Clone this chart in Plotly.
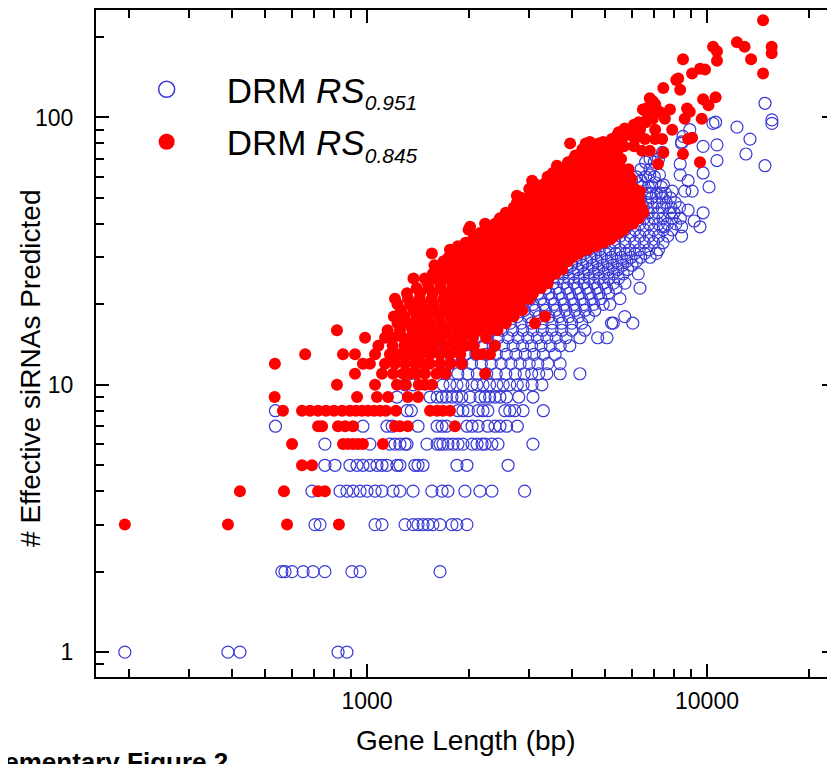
import plotly.graph_objects as go

# ---------------- data (gene length in bp, number of effective siRNAs) ----------------
# DRM RS 0.951 (open blue circles)
blue_low = [
    (194, 1), (390, 1), (423, 1), (822, 1), (873, 1),
    (562, 2), (574, 2), (602, 2), (649, 2), (694, 2), (752, 2), (903, 2), (954, 2), (1640, 2),
    (703, 3), (728, 3), (1056, 3), (1107, 3), (1294, 3), (1366, 3), (1413, 3), (1462, 3), (1511, 3),
    (1563, 3), (1640, 3), (1778, 3), (1839, 3), (1968, 3),
    (689, 4), (833, 4), (873, 4), (910, 4), (954, 4), (1000, 4), (1056, 4), (1107, 4), (1193, 4),
    (1250, 4), (1366, 4), (1552, 4), (1663, 4), (1730, 4), (1941, 4), (2149, 4), (2330, 4), (2908, 4),
    (752, 5), (805, 5), (891, 5), (935, 5), (973, 5), (1020, 5), (1070, 5), (1107, 5), (1145, 5),
    (1225, 5), (1250, 5), (1383, 5), (1413, 5), (1462, 5), (1839, 5), (1968, 5), (2600, 5),
    (752, 6), (1020, 6), (1168, 6), (1209, 6), (1250, 6), (1294, 6), (1311, 6), (1501, 6), (1608, 6),
    (1640, 6), (1673, 6), (1730, 6), (1791, 6), (1852, 6), (1915, 6), (2037, 6), (2107, 6), (2180, 6),
    (2225, 6), (2330, 6), (2428, 6), (3077, 6),
    (538, 7), (973, 7), (1145, 7), (1186, 7), (1413, 7), (1608, 7), (1663, 7), (1713, 7), (1968, 7),
    (2037, 7), (2123, 7), (2267, 7), (2380, 7), (2461, 7), (2575, 7), (2767, 7),
    (538, 8), (1311, 8), (1350, 8), (1852, 8), (1915, 8), (1986, 8), (2123, 8), (2195, 8), (2267, 8),
    (2545, 8), (2630, 8), (2720, 8), (2878, 8), (3300, 8),
    (1225, 9), (1533, 9), (1608, 9), (1663, 9), (1713, 9), (1778, 9), (1839, 9), (1900, 9), (2010, 9),
    (2149, 9), (2225, 9), (2295, 9), (2380, 9), (2461, 9), (2575, 9), (2795, 9), (3077, 9),
    (1294, 10), (1366, 10), (1673, 10), (1754, 10), (1839, 10), (1915, 10), (2037, 10), (2107, 10),
    (2195, 10), (2295, 10), (2412, 10), (2515, 10), (2630, 10), (2767, 10), (2878, 10), (3060, 10), (3270, 10),
]
blue_mid = [
    (1700, 11), (1850, 11), (1980, 11), (2110, 11), (2250, 11), (2400, 11), (2560, 11), (2730, 11),
    (2900, 11), (3050, 11), (3200, 11), (3380, 11), (3700, 11), (4229, 11),
    (1750, 12), (1900, 12), (2030, 12), (2170, 12), (2320, 12), (2480, 12), (2650, 12), (2820, 12),
    (3000, 12), (3180, 12), (3400, 12), (3698, 12),
    (1800, 13), (1950, 13), (2090, 13), (2240, 13), (2400, 13), (2570, 13), (2740, 13), (2920, 13),
    (3100, 13), (3300, 13), (3575, 13),
    (1338, 14), (1413, 14), (1563, 14), (1900, 14), (2050, 14), (2200, 14), (2350, 14), (2520, 14),
    (2690, 14), (2870, 14), (3050, 14), (3250, 14), (3460, 14), (3700, 14), (3950, 14),
    (1501, 15), (1950, 15), (2100, 15), (2260, 15), (2430, 15), (2600, 15), (2780, 15), (2970, 15),
    (3170, 15), (3380, 15), (3600, 15), (3850, 15), (4229, 15), (4770, 15), (5080, 15),
    (2000, 16), (2160, 16), (2330, 16), (2500, 16), (2680, 16), (2870, 16), (3070, 16), (3280, 16),
    (3500, 16), (3740, 16), (4000, 16), (4375, 16),
    (1294, 17), (2100, 17), (2270, 17), (2450, 17), (2640, 17), (2840, 17), (3050, 17), (3270, 17),
    (3500, 17), (3740, 17), (4000, 17), (4280, 17), (5240, 17), (5300, 17), (6050, 17),
    (2200, 18), (2380, 18), (2570, 18), (2770, 18), (2980, 18), (3200, 18), (3430, 18), (3670, 18),
    (3920, 18), (4190, 18), (4480, 18), (5730, 18),
    (2300, 19), (2490, 19), (2690, 19), (2900, 19), (3120, 19), (3350, 19), (3590, 19), (3840, 19),
    (4100, 19), (4380, 19), (4680, 19),
    (2450, 20), (2650, 20), (2860, 20), (3080, 20), (3310, 20), (3550, 20), (3800, 20), (4060, 20),
    (4340, 20), (4640, 20), (4950, 20), (5183, 20),
    (2600, 21), (2800, 21), (3020, 21), (3250, 21), (3490, 21), (3740, 21), (4000, 21), (4280, 21),
    (4570, 21), (4880, 21), (5546, 21),
    (2750, 22), (2960, 22), (3190, 22), (3430, 22), (3680, 22), (3940, 22), (4210, 22), (4500, 22),
    (4810, 22), (5130, 22),
    (2900, 23), (3120, 23), (3360, 23), (3610, 23), (3870, 23), (4140, 23), (4430, 23), (4740, 23),
    (5060, 23), (5400, 23), (6352, 23),
    (3050, 24), (3280, 24), (3530, 24), (3790, 24), (4060, 24), (4350, 24), (4650, 24), (4970, 24),
    (5310, 24), (5737, 24),
    (3150, 25), (3390, 25), (3650, 25), (3920, 25), (4200, 25), (4500, 25), (4810, 25), (5140, 25), (5490, 25),
    (3250, 26), (3500, 26), (3770, 26), (4050, 26), (4340, 26), (4650, 26), (4970, 26), (5310, 26),
    (5670, 26), (6280, 26),
    (3350, 27), (3610, 27), (3880, 27), (4170, 27), (4470, 27), (4790, 27), (5120, 27), (5470, 27), (5840, 27),
    (3450, 28), (3720, 28), (4000, 28), (4300, 28), (4610, 28), (4940, 28), (5280, 28), (5640, 28), (6020, 28),
    (3550, 29), (3830, 29), (4120, 29), (4430, 29), (4750, 29), (5090, 29), (5440, 29), (5810, 29), (6200, 29),
    (3650, 30), (3940, 30), (4240, 30), (4560, 30), (4890, 30), (5240, 30), (5600, 30), (5980, 30),
    (6380, 30), (6800, 30),
]
blue_high = [
    (3750, 31), (4050, 31), (4360, 31), (4690, 31), (5030, 31), (5390, 31), (5760, 31), (6150, 31),
    (6560, 31), (7100, 31),
    (3850, 32), (4160, 32), (4480, 32), (4820, 32), (5170, 32), (5540, 32), (5920, 32), (6320, 32),
    (6740, 32), (7200, 32),
    (4000, 34), (4320, 34), (4650, 34), (5000, 34), (5360, 34), (5740, 34), (6130, 34), (6540, 34),
    (6970, 34), (7420, 34),
    (4150, 36), (4480, 36), (4820, 36), (5180, 36), (5550, 36), (5940, 36), (6340, 36), (6760, 36),
    (7200, 36), (7660, 36), (8420, 36),
    (4300, 38), (4640, 38), (4990, 38), (5360, 38), (5740, 38), (6140, 38), (6550, 38), (6980, 38),
    (7430, 38), (7900, 38),
    (7440, 39), (8420, 39), (9537, 39),
    (4450, 40), (4800, 40), (5160, 40), (5540, 40), (5930, 40), (6340, 40), (6760, 40), (7200, 40),
    (7650, 40), (8100, 40),
    (9170, 41),
    (4600, 42), (4960, 42), (5330, 42), (5720, 42), (6120, 42), (6540, 42), (6970, 42), (7420, 42),
    (7880, 42), (8350, 42),
    (4750, 44), (5120, 44), (5500, 44), (5900, 44), (6310, 44), (6730, 44), (7170, 44), (7780, 44),
    (8000, 44), (9740, 44),
    (8800, 45),
    (4900, 46), (5280, 46), (5670, 46), (6080, 46), (6500, 46), (6930, 46), (7380, 46), (7840, 46), (8300, 46),
    (5050, 48), (5440, 48), (5840, 48), (6260, 48), (6690, 48), (7130, 48), (7590, 48), (8060, 48),
    (5200, 50), (5600, 50), (6010, 50), (6350, 50), (6880, 50), (7380, 50), (7800, 50),
    (5400, 52), (5800, 52), (6220, 52), (6650, 52), (6790, 52), (7090, 52), (7320, 52), (7550, 52),
    (7900, 53), (8600, 53), (9040, 53),
    (5600, 55), (6020, 55), (6450, 55), (6720, 55), (6890, 55), (7340, 55), (10140, 55),
    (5800, 57), (6250, 57), (7040, 57), (7440, 56),
    (6000, 58), (6400, 58), (8800, 58),
    (6200, 60), (6600, 60), (7000, 60),
    (6790, 61), (7250, 61), (8340, 61), (9740, 62),
    (6400, 64), (6800, 64),
    (14810, 66), (8340, 67),
    (6600, 68), (7000, 68), (10700, 69),
    (6800, 70), (7200, 70),
    (13020, 73), (7400, 74),
    (9740, 78), (10700, 79), (8420, 80), (8420, 81),
    (13380, 83), (8500, 85), (8900, 90), (12250, 92),
    (10410, 95), (15520, 95), (10600, 96), (15520, 98), (14810, 113),
]

# DRM RS 0.845 (filled red circles)
red_low = [
    (194, 3), (390, 3), (582, 3), (827, 3),
    (423, 4), (570, 4), (718, 4), (752, 4),
    (644, 5), (689, 5),
    (602, 6), (850, 6), (879, 6), (910, 6), (941, 6), (973, 6), (1114, 6),
    (718, 7), (738, 7), (822, 7), (862, 7), (910, 7), (1209, 7), (1250, 7), (1318, 7), (1815, 7),
    (566, 8), (644, 8), (680, 8), (718, 8), (758, 8), (800, 8), (845, 8), (891, 8), (928, 8), (967, 8),
    (1007, 8), (1049, 8), (1092, 8), (1137, 8), (1217, 8), (1533, 8), (1608, 8), (1673, 8), (1754, 8),
    (535, 9), (935, 9), (1070, 9), (1153, 9), (1318, 9), (1413, 9),
    (816, 10), (1056, 10), (1225, 10), (1300, 10), (1420, 10), (1482, 10), (1552, 10),
]
red_mid = [
    (922, 11), (1107, 11), (1193, 11), (1276, 11), (1338, 11), (1400, 11), (1480, 11), (1600, 11),
    (1700, 11), (2225, 11),
    (536, 12), (973, 12), (1020, 12), (1130, 12), (1209, 12), (1294, 12), (1384, 12), (1460, 12),
    (1530, 12), (1640, 12), (1760, 12), (1900, 12),
    (658, 13), (850, 13), (922, 13), (1056, 13), (1168, 13), (1250, 13), (1338, 13), (1430, 13),
    (1530, 13), (1640, 13), (1750, 13), (1880, 13), (2100, 13), (2180, 13), (2300, 13),
    (1080, 14), (1190, 14), (1290, 14), (1370, 14), (1460, 14), (1560, 14), (1690, 14), (1820, 14),
    (1950, 14), (2060, 14), (2380, 14),
    (987, 15), (1130, 15), (1193, 15), (1276, 15), (1350, 15), (1440, 15), (1540, 15), (1650, 15),
    (1780, 15), (1900, 15), (2050, 15), (2240, 15),
    (816, 16), (1150, 16), (1250, 16), (1360, 16), (1470, 16), (1580, 16), (1700, 16), (1840, 16),
    (1970, 16), (2120, 16), (2280, 16), (2420, 16),
    (1230, 17), (1320, 17), (1420, 17), (1530, 17), (1650, 17), (1780, 17), (1920, 17), (2060, 17),
    (2220, 17), (2390, 17), (2560, 17), (3120, 17),
    (1200, 18), (1290, 18), (1400, 18), (1510, 18), (1630, 18), (1760, 18), (1890, 18), (2040, 18),
    (2190, 18), (2360, 18), (2540, 18), (2700, 18), (3340, 18),
    (1260, 19), (1370, 19), (1480, 19), (1600, 19), (1730, 19), (1860, 19), (2000, 19), (2160, 19),
    (2320, 19), (2490, 19), (2680, 19), (2860, 19),
    (1230, 20), (1340, 20), (1450, 20), (1570, 20), (1700, 20), (1830, 20), (1970, 20), (2120, 20),
    (2280, 20), (2450, 20), (2630, 20), (2820, 20),
    (1209, 21), (1320, 21), (1430, 21), (1550, 21), (1680, 21), (1810, 21), (1950, 21), (2100, 21),
    (2260, 21), (2430, 21), (2610, 21), (2800, 21), (3000, 21),
    (1311, 22), (1432, 22), (1560, 22), (1690, 22), (1830, 22), (1980, 22), (2130, 22), (2290, 22),
    (2470, 22), (2660, 22), (2860, 22), (3080, 22),
    (1400, 23), (1520, 23), (1650, 23), (1790, 23), (1940, 23), (2090, 23), (2250, 23), (2430, 23),
    (2610, 23), (2810, 23), (3020, 23), (3250, 23),
    (1510, 24), (1640, 24), (1780, 24), (1920, 24), (2080, 24), (2240, 24), (2410, 24), (2600, 24),
    (2800, 24), (3010, 24), (3230, 24), (3400, 24),
    (1370, 25), (1480, 25), (1610, 25), (1750, 25), (1900, 25), (2050, 25), (2210, 25), (2380, 25),
    (2560, 25), (2760, 25), (2970, 25), (3190, 25), (3420, 25),
    (1560, 26), (1700, 26), (1840, 26), (1990, 26), (2150, 26), (2320, 26), (2500, 26), (2690, 26),
    (2900, 26), (3120, 26), (3350, 26), (3580, 26),
    (1620, 27), (1760, 27), (1910, 27), (2070, 27), (2240, 27), (2420, 27), (2610, 27), (2810, 27),
    (3030, 27), (3260, 27), (3500, 27), (3750, 27),
    (1580, 28), (1720, 28), (1870, 28), (2030, 28), (2200, 28), (2380, 28), (2570, 28), (2770, 28),
    (2990, 28), (3220, 28), (3460, 28), (3700, 28),
    (1680, 29), (1830, 29), (1990, 29), (2160, 29), (2340, 29), (2530, 29), (2730, 29), (2940, 29),
    (3170, 29), (3410, 29), (3660, 29), (3900, 29),
    (1740, 30), (1890, 30), (2050, 30), (2220, 30), (2400, 30), (2590, 30), (2800, 30), (3020, 30),
    (3250, 30), (3500, 30), (3760, 30), (4020, 30),
]
red_high = [
    (1552, 31), (1800, 31), (1960, 31), (2130, 31), (2310, 31), (2500, 31), (2700, 31), (2910, 31),
    (3140, 31), (3380, 31), (3640, 31), (3910, 31), (4200, 31),
    (1754, 32), (1900, 32), (2070, 32), (2250, 32), (2440, 32), (2640, 32), (2850, 32), (3080, 32),
    (3320, 32), (3580, 32), (3850, 32), (4140, 32), (4450, 32),
    (1850, 33), (2010, 33), (2180, 33), (2370, 33), (2570, 33), (2780, 33), (3000, 33), (3240, 33),
    (3500, 33), (3770, 33), (4060, 33), (4370, 33), (4700, 33),
    (1950, 34), (2120, 34), (2300, 34), (2500, 34), (2710, 34), (2930, 34), (3170, 34), (3420, 34),
    (3690, 34), (3980, 34), (4290, 34), (4620, 34), (4960, 34),
    (2050, 35), (2230, 35), (2420, 35), (2630, 35), (2850, 35), (3080, 35), (3330, 35), (3600, 35),
    (3880, 35), (4180, 35), (4500, 35), (4850, 35), (5200, 35),
    (2080, 36), (2270, 36), (2470, 36), (2680, 36), (2900, 36), (3140, 36), (3400, 36), (3670, 36),
    (3960, 36), (4270, 36), (4600, 36), (4950, 36), (5330, 36),
    (2150, 37), (2340, 37), (2550, 37), (2770, 37), (3000, 37), (3250, 37), (3510, 37), (3790, 37),
    (4090, 37), (4410, 37), (4750, 37), (5120, 37), (5500, 37),
    (1990, 38), (2240, 38), (2440, 38), (2650, 38), (2880, 38), (3120, 38), (3370, 38), (3640, 38),
    (3930, 38), (4240, 38), (4570, 38), (4920, 38), (5300, 38), (5700, 38),
    (2010, 39), (2300, 39), (2510, 39), (2730, 39), (2960, 39), (3210, 39), (3470, 39), (3750, 39),
    (4050, 39), (4370, 39), (4710, 39), (5080, 39), (5470, 39),
    (2225, 40), (2380, 40), (2590, 40), (2820, 40), (3060, 40), (3310, 40), (3580, 40), (3870, 40),
    (4180, 40), (4510, 40), (4860, 40), (5240, 40), (5640, 40), (6060, 40),
    (2470, 41), (2700, 41), (2930, 41), (3180, 41), (3450, 41), (3730, 41), (4030, 41), (4350, 41),
    (4690, 41), (5060, 41), (5450, 41), (5870, 41),
    (2460, 42), (2680, 42), (2920, 42), (3170, 42), (3440, 42), (3720, 42), (4020, 42), (4340, 42),
    (4680, 42), (5050, 42), (5440, 42), (5860, 42), (6300, 42),
    (2560, 44), (2790, 44), (3040, 44), (3300, 44), (3580, 44), (3870, 44), (4180, 44), (4510, 44),
    (4860, 44), (5240, 44), (5640, 44), (6070, 44), (6500, 44),
    (2700, 46), (2940, 46), (3200, 46), (3480, 46), (3770, 46), (4080, 46), (4410, 46), (4760, 46),
    (5130, 46), (5530, 46), (5960, 46), (6420, 46),
    (2760, 48), (2990, 48), (3240, 48), (3510, 48), (3800, 48), (4110, 48), (4440, 48), (4790, 48),
    (5160, 48), (5560, 48), (5990, 48), (6330, 48),
    (2850, 50), (3100, 50), (3370, 50), (3660, 50), (3970, 50), (4300, 50), (4650, 50), (5020, 50),
    (5420, 50), (5850, 50), (6300, 50),
    (2760, 51), (3050, 52), (3320, 52), (3610, 52), (3920, 52), (4250, 52), (4600, 52), (4980, 52),
    (5380, 52), (5810, 52), (6350, 53),
    (3000, 54), (3260, 54), (3540, 54), (3840, 54), (4160, 54), (4500, 54), (4870, 54), (5260, 54),
    (5680, 54), (6130, 54),
    (3150, 56), (3420, 56), (3710, 56), (4020, 56), (4350, 56), (4710, 56), (5090, 56), (5500, 56),
    (5940, 56),
    (3060, 58), (3500, 58), (3800, 58), (4120, 58), (4460, 58), (4830, 58), (5220, 58), (5640, 58),
    (5990, 59),
    (3400, 60), (3690, 60), (4000, 60), (4330, 60), (4690, 60), (5070, 60), (5480, 60), (5920, 60),
    (3520, 62), (3820, 62), (4140, 62), (4480, 62), (4850, 62), (5240, 62), (5660, 62),
    (3650, 64), (3960, 64), (4290, 64), (4650, 64), (5030, 64), (5440, 64), (5880, 64),
    (3620, 66), (4020, 66), (4360, 66), (4720, 66), (5110, 66), (5530, 66),
    (7180, 67), (3900, 68), (4230, 68), (4590, 68), (4970, 68), (5380, 68), (9537, 68),
    (4050, 70), (4390, 70), (4760, 70), (5160, 70), (5590, 70),
    (4100, 72), (4440, 72), (4810, 72), (5210, 72), (8500, 73),
    (4300, 74), (4660, 74), (5050, 74), (7440, 74), (6440, 75), (6790, 75),
    (4300, 76), (4650, 76), (5050, 76), (5480, 76),
    (4500, 78), (4870, 78), (5300, 78), (5700, 78), (6100, 78),
    (3957, 80), (4400, 80), (4800, 80), (5100, 80), (5500, 80),
    (4525, 81), (4950, 81), (5250, 83), (5600, 83), (6140, 83), (6570, 83), (7040, 83), (7380, 83),
    (8800, 83), (9040, 84),
    (5450, 86), (5800, 86), (5500, 88), (6000, 88), (6300, 88),
    (5800, 90), (6350, 90), (7040, 90), (7900, 90), (5730, 91),
    (6100, 94), (6400, 94), (6300, 96), (6600, 96),
    (6930, 99), (7520, 99), (8600, 99), (9650, 99), (6700, 102),
    (6720, 105), (7250, 105), (8900, 105), (6480, 107), (7780, 107), (6630, 108), (8740, 108),
    (10100, 111), (7040, 112), (6930, 115), (9740, 117), (6790, 118), (10600, 119),
    (8340, 127), (7440, 129), (8120, 138), (8230, 140), (9040, 146), (14620, 146),
    (9870, 151), (9540, 152), (10700, 163), (8500, 165), (13480, 165), (15500, 174),
    (10700, 177), (10420, 184), (12900, 184), (15500, 184), (12250, 191), (14620, 231),
]
red_core = [
    (2600, 43), (2900, 43), (3250, 43), (3650, 43), (4100, 43), (4600, 43), (5150, 43), (5800, 43),
    (2700, 45), (3050, 45), (3450, 45), (3900, 45), (4400, 45), (4950, 45), (5550, 45), (6200, 45),
    (2750, 47), (3100, 47), (3500, 47), (3950, 47), (4450, 47), (5000, 47), (5600, 47),
    (2900, 49), (3300, 49), (3750, 49), (4250, 49), (4800, 49), (5400, 49), (6050, 49),
    (3150, 53), (3550, 53), (4000, 53), (4500, 53), (5050, 53), (5650, 53),
    (3300, 55), (3700, 55), (4150, 55), (4650, 55), (5200, 55), (5800, 55),
    (3350, 57), (3750, 57), (4200, 57), (4700, 57), (5250, 57),
    (3550, 59), (3950, 59), (4400, 59), (4900, 59), (5450, 59),
    (3600, 61), (4050, 61), (4550, 61), (5050, 61), (5600, 61),
    (3750, 63), (4200, 63), (4700, 63), (5250, 63),
    (3850, 65), (4300, 65), (4800, 65), (5350, 65),
    (4000, 67), (4450, 67), (4950, 67),
    (4100, 69), (4550, 69), (5050, 69), (5500, 69),
    (4250, 71), (4700, 71), (5250, 71),
]

# axis ticks
x_tickvals = [1000, 10000]
x_ticktext = ["1000", "10000"]
x_minorvals = [200, 300, 400, 500, 600, 700, 800, 900,
               2000, 3000, 4000, 5000, 6000, 7000, 8000, 9000, 20000]
y_tickvals = [1, 10, 100]
y_ticktext = ["1", "10", "100"]
y_minorvals = [0.9, 2, 3, 4, 5, 6, 7, 8, 9, 20, 30, 40, 50, 60, 70, 80, 90, 200]

sub_style = '<span style="font-size:21px">'
series_names = [
    "DRM <i>RS</i><sub>" + sub_style + "<i>0.951</i></span></sub>",
    "DRM <i>RS</i><sub>" + sub_style + "<i>0.845</i></span></sub>",
]
x_title = "Gene Length (bp)"
y_title = "# Effective siRNAs Predicted"
footer = "<b>Supplementary Figure 2</b>"

BLUE = "#3a3ad6"
RED = "#ff0000"
FONT = "Liberation Sans, Arial, sans-serif"

blue_pts = blue_low + blue_mid + blue_high
red_pts = red_low + red_mid + red_high + red_core

fig = go.Figure()
fig.add_trace(go.Scatter(
    x=[p[0] for p in blue_pts], y=[p[1] for p in blue_pts], mode="markers",
    marker=dict(symbol="circle-open", size=12, color=BLUE, line=dict(width=1.2, color=BLUE)),
    showlegend=False, hoverinfo="skip"))
fig.add_trace(go.Scatter(
    x=[p[0] for p in red_pts], y=[p[1] for p in red_pts], mode="markers",
    marker=dict(symbol="circle", size=12, color=RED, line=dict(width=0)),
    showlegend=False, hoverinfo="skip"))
# legend entries
fig.add_trace(go.Scatter(
    x=[None], y=[None], mode="markers", name=series_names[0], legendgroup="a",
    marker=dict(symbol="circle-open", size=16, color=BLUE, line=dict(width=1.5, color=BLUE))))
fig.add_trace(go.Scatter(
    x=[None], y=[None], mode="markers", name=series_names[1], legendgroup="b",
    marker=dict(symbol="circle", size=16, color=RED)))

axis_common = dict(
    type="log", showline=True, linecolor="black", linewidth=2, mirror="ticks",
    ticks="inside", ticklen=13, tickwidth=2, tickcolor="black", showgrid=False, zeroline=False,
    tickfont=dict(family=FONT, size=23, color="black"), automargin=False,
)
fig.update_xaxes(
    **axis_common, range=[2.203, 4.3765], tickmode="array", tickvals=x_tickvals, ticktext=x_ticktext,
    minor=dict(tickmode="array", tickvals=x_minorvals, ticks="inside", ticklen=8, tickwidth=2,
               tickcolor="black", showgrid=False),
    ticklabelstandoff=2,
)
fig.update_yaxes(
    **axis_common, range=[-0.093, 2.402], tickmode="array", tickvals=y_tickvals, ticktext=y_ticktext,
    minor=dict(tickmode="array", tickvals=y_minorvals, ticks="inside", ticklen=8, tickwidth=2,
               tickcolor="black", showgrid=False),
    ticklabelstandoff=16,
)

# the page body adds an 8px offset, so the figure is 8px smaller than the window
fig.update_layout(
    width=827, height=756,
    margin=dict(l=88, r=0, t=2, b=87, autoexpand=False),
    paper_bgcolor="white", plot_bgcolor="white",
    font=dict(family=FONT, color="black"),
    legend=dict(x=0.0144, y=0.925, xanchor="left", yanchor="top", bgcolor="rgba(0,0,0,0)",
                font=dict(family=FONT, size=35, color="black"), itemsizing="trace",
                traceorder="grouped", tracegroupgap=4, itemwidth=110),
    annotations=[
        dict(text=x_title, xref="paper", yref="paper", x=0.5007, y=-0.0945,
             xanchor="center", yanchor="middle", showarrow=False,
             font=dict(family=FONT, size=28, color="black")),
        dict(text=y_title, xref="paper", yref="paper", x=-0.088, y=0.4633, textangle=-90,
             xanchor="center", yanchor="middle", showarrow=False,
             font=dict(family=FONT, size=28, color="black")),
        dict(text=footer, xref="paper", yref="paper", x=0.1813, y=-0.1274,
             xanchor="right", yanchor="middle", showarrow=False,
             font=dict(family=FONT, size=26, color="black")),
    ],
)

fig.write_html("out.html")
